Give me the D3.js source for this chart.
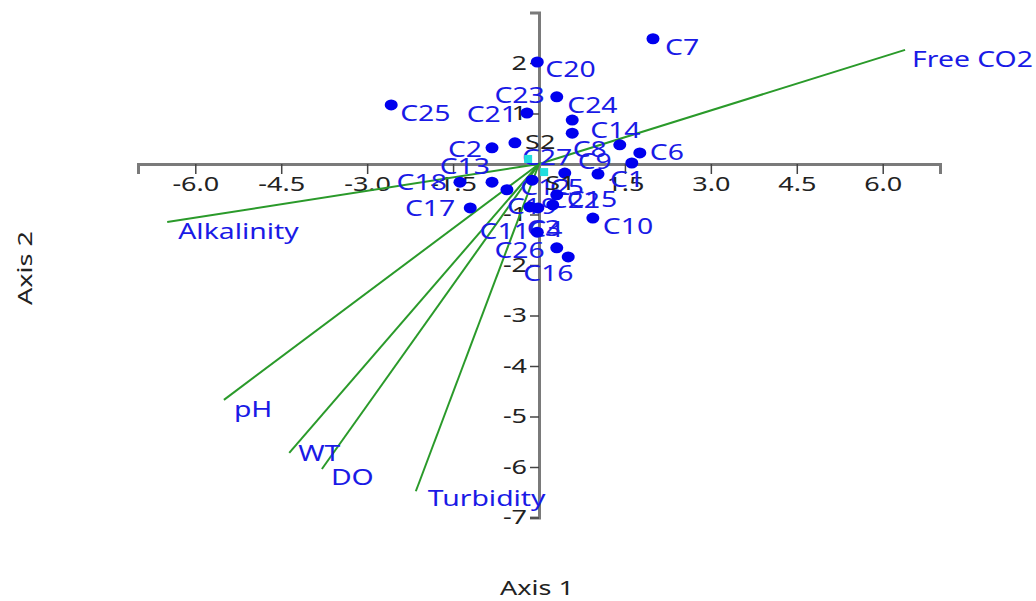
<!DOCTYPE html>
<html>
<head>
    <meta charset="utf-8">
    <title>Biplot Axis 1 / Axis 2</title>
    <script src="https://d3js.org/d3.v7.min.js"></script>
    <style>
        body { margin: 0; background: #fff; }
        svg { display: block; }
        text { font-family: "Noto Sans", "Open Sans", sans-serif; }
    </style>
</head>
<body>
<div id="chart"></div>
<script>
    // sample scores
    const siteNames = ["C1","C2","C3","C4","C5","C6","C7","C8","C9","C10","C11","C12","C13","C14",
        "C15","C16","C17","C18","C19","C20","C21","C22","C23","C24","C25","C26","C27"];
    const siteX = [1.03,-0.82,-0.02,-0.03,0.45,1.76,1.99,1.41,1.62,0.94,-0.16,-0.12,-0.82,0.58,
        0.31,0.51,-1.20,-1.38,-0.56,-0.03,-0.21,0.24,0.31,0.58,-2.58,0.31,-0.42];
    const siteY = [-0.20,0.32,-0.87,-1.35,-0.18,0.22,2.48,0.38,0.02,-1.07,-0.85,-0.32,-0.36,0.61,
        -0.61,-1.84,-0.87,-0.36,-0.51,2.02,1.01,-0.81,1.33,0.87,1.17,-1.66,0.42];

    // group centroids
    const groupNames = ["S1","S2"];
    const groupX = [0.09,-0.19];
    const groupY = [-0.16,0.10];

    // variable loadings (biplot vectors)
    const varNames = ["Free CO2","Alkalinity","pH","WT","DO","Turbidity"];
    const varX = [6.39,-6.49,-5.50,-4.36,-3.79,-2.15];
    const varY = [2.26,-1.15,-4.67,-5.72,-6.04,-6.48];

    const xTicks = [-6,-4.5,-3,-1.5,1.5,3,4.5,6];
    const yTicks = [2,1,-1,-2,-3,-4,-5,-6,-7];

    // label placement, px from the point: [dx, dy, anchor]
    const siteLabelPos = {
        C1:[12,13,"start"], C2:[-10,9,"end"], C3:[-11,28,"start"], C4:[-9,5,"start"], C5:[-15,22,"start"],
        C6:[10,7,"start"], C7:[12,16,"start"], C8:[-13,12,"end"], C9:[-20,6,"end"], C10:[10,16,"start"],
        C11:[0,32,"end"], C12:[-12,15,"start"], C13:[-2,-8,"end"], C14:[18,5,"start"], C15:[10,12,"start"],
        C16:[-45,24,"start"], C17:[-15,8,"end"], C18:[-13,8,"end"], C19:[0,24,"start"], C20:[8,15,"start"],
        C21:[-10,9,"end"], C22:[-3,3,"start"], C23:[-12,6,"end"], C24:[-5,-7,"start"], C25:[9,16,"start"],
        C26:[-12,10,"end"], C27:[7,22,"start"]
    };
    const groupLabelPos = { S1:[1,18,"start"], S2:[-3,-10,"start"] };
    const varLabelPos = {
        "Free CO2":[7,17], "Alkalinity":[11,17], "pH":[10,17], "WT":[9,8], "DO":[9,16], "Turbidity":[12,15]
    };

    const W = 1036, H = 601;
    const SX = 1.35; // text is drawn a bit wide
    const blue = "#1a1ae6";

    const svg = d3.select("#chart").append("svg").attr("width", W).attr("height", H);

    const x = d3.scaleLinear().domain([-7, 7]).range([138, 940]);
    const y = d3.scaleLinear().domain([-7, 3]).range([517.5, 12.5]);
    const x0 = x(0), y0 = y(0);

    function wideText(g, px, py, str, anchor, size, color) {
        return g.append("text")
            .attr("transform", `translate(${px},${py}) scale(${SX},1)`)
            .attr("text-anchor", anchor)
            .attr("font-size", size)
            .attr("fill", color)
            .text(str);
    }

    const fmtX = d => d3.format(".1f")(d).replace("\u2212", "-");
    const fmtY = d => d3.format("d")(d).replace("\u2212", "-");

    // x axis
    const xAxis = svg.append("g")
        .attr("transform", `translate(0,${y0})`)
        .call(d3.axisBottom(x).tickValues(xTicks).tickSize(10).tickFormat(fmtX));
    xAxis.select(".domain").attr("stroke", "#7a7a7a").attr("stroke-width", 3);
    xAxis.selectAll(".tick line").attr("stroke", "#444").attr("stroke-width", 1.5);
    xAxis.selectAll(".tick text")
        .attr("font-size", 20).attr("fill", "#222")
        .attr("font-family", "Noto Sans, sans-serif")
        .attr("y", 13)
        .attr("transform", `scale(${SX},1)`);

    // y axis
    const yAxis = svg.append("g")
        .attr("transform", `translate(${x0},0)`)
        .call(d3.axisLeft(y).tickValues(yTicks).tickSize(9).tickFormat(fmtY));
    yAxis.select(".domain").attr("stroke", "#7a7a7a").attr("stroke-width", 3);
    yAxis.selectAll(".tick line").attr("stroke", "#444").attr("stroke-width", 1.5);
    yAxis.selectAll(".tick text")
        .attr("font-size", 20).attr("fill", "#222")
        .attr("font-family", "Noto Sans, sans-serif")
        .attr("x", -12 / SX)
        .attr("transform", `scale(${SX},1)`);

    // axis titles
    wideText(svg, 537, 595, "Axis 1", "middle", 20, "#222");
    svg.append("text")
        .attr("transform", `translate(32,268) rotate(-90) scale(${SX},1)`)
        .attr("text-anchor", "middle")
        .attr("font-size", 20)
        .attr("fill", "#222")
        .text("Axis 2");

    // vectors
    const vars = varNames.map((n, i) => ({ name: n, x: varX[i], y: varY[i] }));
    svg.append("g").selectAll("line").data(vars).enter().append("line")
        .attr("x1", x0).attr("y1", y0)
        .attr("x2", d => x(d.x)).attr("y2", d => y(d.y))
        .attr("stroke", "#2a9a2a").attr("stroke-width", 2);

    const gLab = svg.append("g");
    vars.forEach(d => {
        const p = varLabelPos[d.name];
        wideText(gLab, x(d.x) + p[0], y(d.y) + p[1], d.name, "start", 21, blue);
    });

    // sites
    const sites = siteNames.map((n, i) => ({ name: n, x: siteX[i], y: siteY[i] }));
    const gSites = svg.append("g");
    sites.forEach(d => {
        const p = siteLabelPos[d.name];
        wideText(gSites, x(d.x) + p[0], y(d.y) + p[1], d.name, p[2], 21, blue);
    });
    svg.append("g").selectAll("ellipse").data(sites).enter().append("ellipse")
        .attr("cx", d => x(d.x)).attr("cy", d => y(d.y))
        .attr("rx", 6.5).attr("ry", 5.5)
        .attr("fill", "#0000ee");

    // groups
    const groups = groupNames.map((n, i) => ({ name: n, x: groupX[i], y: groupY[i] }));
    svg.append("g").selectAll("rect").data(groups).enter().append("rect")
        .attr("x", d => x(d.x) - 4).attr("y", d => y(d.y) - 4)
        .attr("width", 8).attr("height", 8)
        .attr("fill", "#22dddd");
    groups.forEach(d => {
        const p = groupLabelPos[d.name];
        wideText(svg, x(d.x) + p[0], y(d.y) + p[1], d.name, p[2], 20, "#222");
    });
</script>
</body>
</html>
